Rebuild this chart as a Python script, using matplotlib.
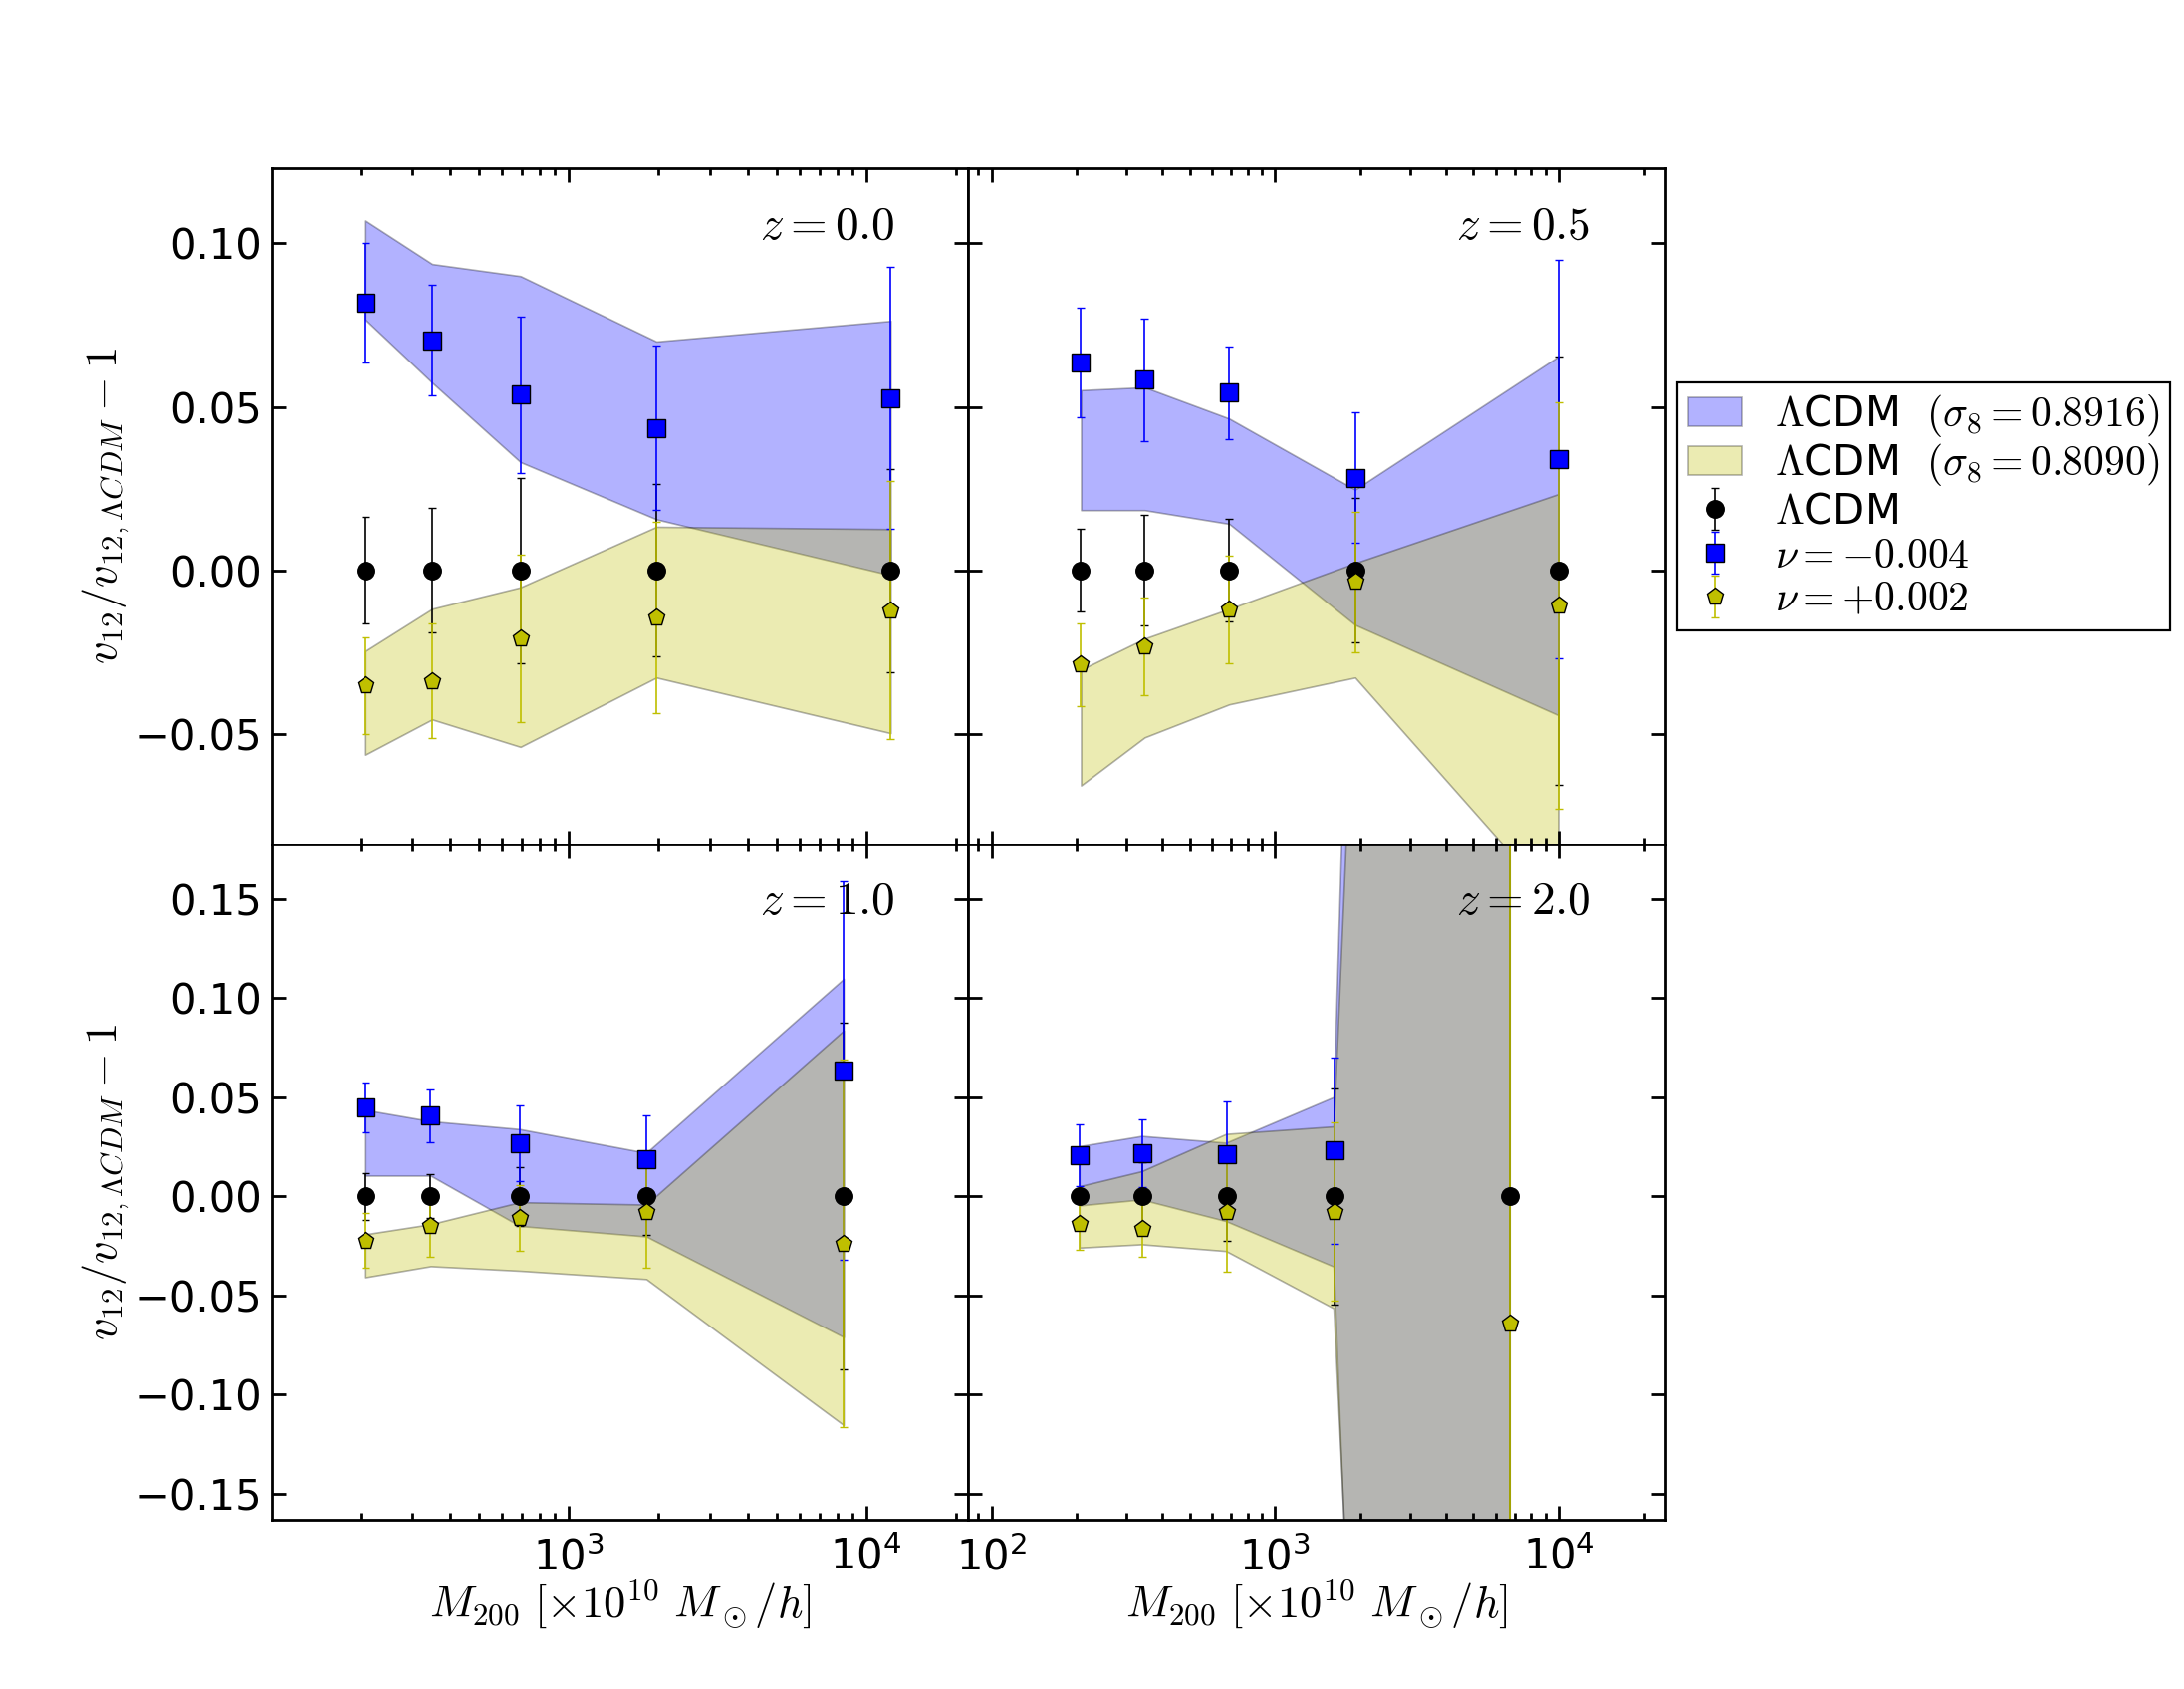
import numpy as np
import matplotlib
matplotlib.use('Agg')
import matplotlib.pyplot as plt
from matplotlib.ticker import MultipleLocator

# ---- data (x in 1e10 Msun/h, y = v12/v12_LCDM - 1) ----
z_labels = ['0.0', '0.5', '1.0', '2.0']

m200_z00 = [208, 349, 691, 1977, 12100]
m200_z05 = [207, 347, 690, 1917, 9970]
m200_z10 = [208, 345, 687, 1828, 8410]
m200_z20 = [205, 340, 675, 1616, 6745]

# LCDM reference points (always 0) and their errors
lcdm_err_z00 = [0.0163, 0.0191, 0.0283, 0.0264, 0.0311]
lcdm_err_z05 = [0.0127, 0.0170, 0.0157, 0.0220, 0.0655]
lcdm_err_z10 = [0.0119, 0.0110, 0.0148, 0.0196, 0.0875]
lcdm_err_z20 = [0.0030, 0.0171, 0.0225, 0.0545, 1.5]

# nu = -0.004
nuneg_z00 = [0.0819, 0.0703, 0.0537, 0.0436, 0.0527]
nuneg_err_z00 = [0.0182, 0.0169, 0.0239, 0.0251, 0.0401]
nuneg_z05 = [0.0635, 0.0583, 0.0543, 0.0283, 0.0339]
nuneg_err_z05 = [0.0168, 0.0187, 0.0142, 0.0200, 0.0609]
nuneg_z10 = [0.0448, 0.0406, 0.0266, 0.0187, 0.0635]
nuneg_err_z10 = [0.0126, 0.0132, 0.0191, 0.0223, 0.0955]
nuneg_z20 = [0.0208, 0.0216, 0.0211, 0.0231, np.nan]
nuneg_err_z20 = [0.0157, 0.0170, 0.0267, 0.0469, np.nan]

# nu = +0.002
nupos_z00 = [-0.0352, -0.0338, -0.0209, -0.0144, -0.0122]
nupos_err_z00 = [0.0148, 0.0174, 0.0256, 0.0293, 0.0395]
nupos_z05 = [-0.0289, -0.0233, -0.0119, -0.0036, -0.0108]
nupos_err_z05 = [0.0126, 0.0149, 0.0164, 0.0216, 0.0621]
nupos_z10 = [-0.0224, -0.0148, -0.0109, -0.0081, -0.0238]
nupos_err_z10 = [0.0139, 0.0160, 0.0165, 0.0279, 0.0927]
nupos_z20 = [-0.0139, -0.0165, -0.0077, -0.0077, -0.0644]
nupos_err_z20 = [0.0131, 0.0139, 0.0302, 0.0451, 2.0]

# LCDM sigma8 = 0.8916 band (upper / lower)
s8hi_up_z00 = [0.1070, 0.0937, 0.0900, 0.0700, 0.0763]
s8hi_lo_z00 = [0.0767, 0.0574, 0.0331, 0.0156, -0.0015]
s8hi_up_z05 = [0.0551, 0.0560, 0.0464, 0.0247, 0.0654]
s8hi_lo_z05 = [0.0184, 0.0184, 0.0142, -0.0167, -0.0443]
s8hi_up_z10 = [0.0436, 0.0379, 0.0339, 0.0219, 0.1097]
s8hi_lo_z10 = [0.0104, 0.0104, -0.0150, -0.0203, -0.0711]
s8hi_up_z20 = [0.0250, 0.0302, 0.0268, 0.0498, 3.0]
s8hi_lo_z20 = [-0.0049, -0.0019, -0.0128, -0.0357, -2.3]

# LCDM sigma8 = 0.8090 band (upper / lower)
s8lo_up_z00 = [-0.0247, -0.0118, -0.0052, 0.0133, 0.0126]
s8lo_lo_z00 = [-0.0564, -0.0456, -0.0540, -0.0328, -0.0498]
s8lo_up_z05 = [-0.0304, -0.0209, -0.0118, 0.0022, 0.0233]
s8lo_lo_z05 = [-0.0658, -0.0511, -0.0410, -0.0328, -0.103]
s8lo_up_z10 = [-0.0192, -0.0141, -0.0030, -0.0042, 0.0836]
s8lo_lo_z10 = [-0.0409, -0.0353, -0.0376, -0.0418, -0.1155]
s8lo_up_z20 = [0.0048, 0.0124, 0.0312, 0.0350, 2.1]
s8lo_lo_z20 = [-0.0262, -0.0245, -0.0279, -0.0568, -1.9]

m200 = [m200_z00, m200_z05, m200_z10, m200_z20]
lcdm_err = [lcdm_err_z00, lcdm_err_z05, lcdm_err_z10, lcdm_err_z20]
nuneg = [nuneg_z00, nuneg_z05, nuneg_z10, nuneg_z20]
nuneg_err = [nuneg_err_z00, nuneg_err_z05, nuneg_err_z10, nuneg_err_z20]
nupos = [nupos_z00, nupos_z05, nupos_z10, nupos_z20]
nupos_err = [nupos_err_z00, nupos_err_z05, nupos_err_z10, nupos_err_z20]
s8hi = [(s8hi_up_z00, s8hi_lo_z00), (s8hi_up_z05, s8hi_lo_z05),
        (s8hi_up_z10, s8hi_lo_z10), (s8hi_up_z20, s8hi_lo_z20)]
s8lo = [(s8lo_up_z00, s8lo_lo_z00), (s8lo_up_z05, s8lo_lo_z05),
        (s8lo_up_z10, s8lo_lo_z10), (s8lo_up_z20, s8lo_lo_z20)]

plt.rcParams['font.family'] = 'DejaVu Sans'
plt.rcParams['mathtext.fontset'] = 'cm'
plt.rcParams['xtick.direction'] = 'in'
plt.rcParams['ytick.direction'] = 'in'
plt.rcParams['xtick.top'] = True
plt.rcParams['ytick.right'] = True
plt.rcParams['xtick.major.size'] = 5
plt.rcParams['ytick.major.size'] = 5
plt.rcParams['xtick.minor.size'] = 2.5
plt.rcParams['ytick.minor.size'] = 2.5
plt.rcParams['xtick.major.width'] = 1.0
plt.rcParams['ytick.major.width'] = 1.0
plt.rcParams['xtick.minor.width'] = 1.0
plt.rcParams['axes.linewidth'] = 1.0
plt.rcParams['xtick.labelsize'] = 15
plt.rcParams['ytick.labelsize'] = 15
plt.rcParams['xtick.major.pad'] = 6
plt.rcParams['ytick.major.pad'] = 3.5

fig, axes = plt.subplots(2, 2, figsize=(10.965, 8.48), dpi=200,
                         sharex='col', sharey='row')
fig.subplots_adjust(left=0.1245, right=0.7624, top=0.9002, bottom=0.1002,
                    wspace=0, hspace=0)
axes = axes.ravel()

ekw = dict(ms=6.3, mew=0.5, mec='k', elinewidth=0.6, capsize=1.6, capthick=0.6)

for i, ax in enumerate(axes):
    x = np.array(m200[i], dtype=float)
    ax.fill_between(x, s8hi[i][1], s8hi[i][0], facecolor='b', edgecolor='k',
                    alpha=0.3, linewidth=0.6,
                    label=r'$\Lambda$CDM  $(\sigma_8=0.8916)$')
    ax.fill_between(x, s8lo[i][1], s8lo[i][0], facecolor='y', edgecolor='k',
                    alpha=0.3, linewidth=0.6,
                    label=r'$\Lambda$CDM  $(\sigma_8=0.8090)$')
    ax.errorbar(x, np.zeros(len(x)), yerr=lcdm_err[i], fmt='o', color='k',
                ecolor='k', label=r'$\Lambda$CDM', **ekw)
    ax.errorbar(x, nuneg[i], yerr=nuneg_err[i], fmt='s', color='b',
                ecolor='b', label=r'$\nu=-0.004$', **ekw)
    ax.errorbar(x, nupos[i], yerr=nupos_err[i], fmt='p', color='y',
                ecolor='y', label=r'$\nu=+0.002$', **ekw)
    ax.set_xscale('log')
    ax.text(0.70, 0.915, r'$z=%s$' % z_labels[i],
            transform=ax.transAxes, fontsize=17, ha='left', va='center')
    ax.yaxis.set_major_locator(MultipleLocator(0.05))

axes[0].set_xlim(101, 22100)
axes[1].set_xlim(83, 23770)
axes[0].set_ylim(-0.0838, 0.1229)
axes[2].set_ylim(-0.1633, 0.1777)

for ax in (axes[0], axes[2]):
    ax.set_ylabel(r'$v_{12}/v_{12,\Lambda CDM}-1$', fontsize=16)
    ax.yaxis.set_label_coords(-0.2, 0.5)
for ax in (axes[2], axes[3]):
    ax.set_xlabel(r'$M_{200}\ [\times 10^{10}\ M_\odot/h]$', fontsize=16,
                  labelpad=0)

handles, labels = axes[0].get_legend_handles_labels()
leg = axes[1].legend(handles, labels, loc='center left', bbox_to_anchor=(1.0, 0.5),
                     fontsize=15, numpoints=1, fancybox=False, framealpha=1,
                     edgecolor='k', borderaxespad=0.3, handlelength=1.3,
                     handletextpad=0.8, labelspacing=0.05, borderpad=0.25)
leg.get_frame().set_linewidth(0.8)

fig.savefig('out.png', dpi=200, facecolor='white')
